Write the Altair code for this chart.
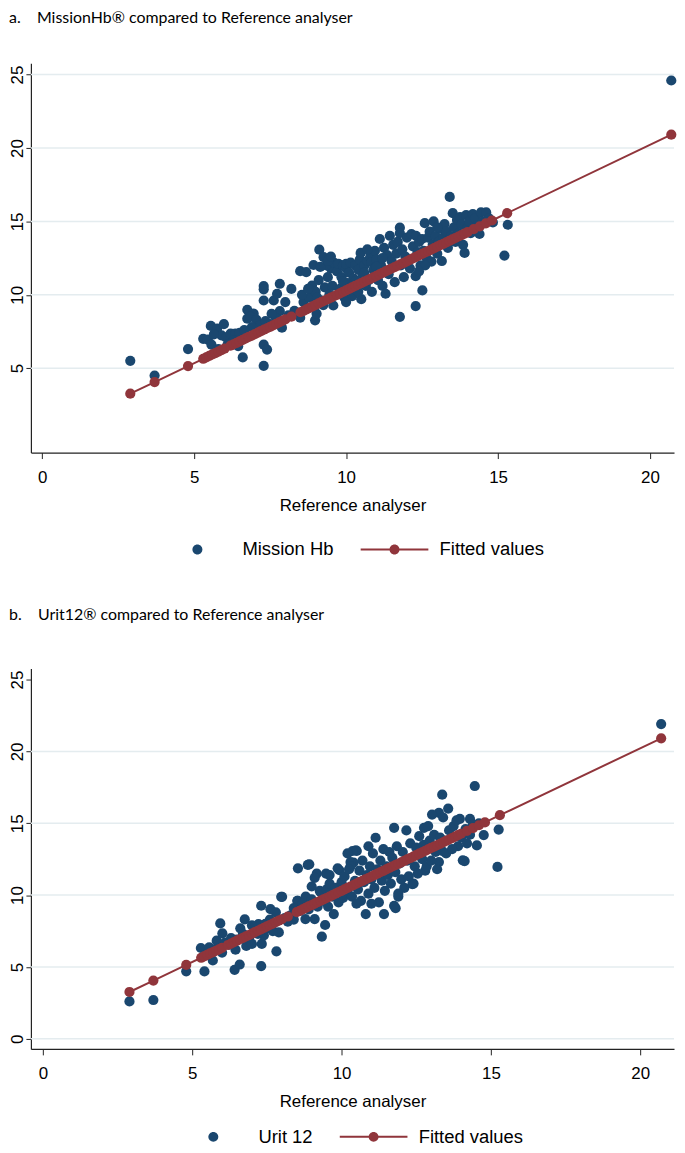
import altair as alt
import pandas as pd

BLUE = "#1a476f"
RED = "#90353b"
GRID = "#e4ecef"

# ---- Panel a: MissionHb vs reference analyser ----
mission_ref = [2.9, 3.7, 4.8,
    5.3, 5.45, 5.57, 5.55, 5.76, 5.98, 5.9, 6.05, 6.2, 6.36, 6.5, 6.6, 6.45, 5.8, 6.1, 6.3, 5.65,
    6.75, 6.75, 6.96, 6.85, 7.05, 7.29, 7.29, 7.4, 7.29, 7.29, 7.29, 7.62, 7.73, 7.82, 8.0, 7.82, 7.89, 8.2,
    7.0, 7.5, 7.7, 8.1, 8.3, 7.15, 7.55, 6.9, 7.35, 6.65,
    8.49, 8.69, 8.88, 8.93, 9.12, 9.26, 8.49, 8.98, 8.71, 9.03, 9.58, 8.6, 8.8, 9.0, 9.2, 9.3, 9.4, 9.5,
    9.35, 9.6, 9.1, 9.25, 9.45, 9.55, 8.55, 9.15, 9.4, 9.5, 8.75, 9.05,
    9.7, 9.75, 9.8, 9.85, 9.9, 9.95, 10.0, 10.0, 10.05, 10.1, 10.15, 10.2, 10.25, 10.3, 10.35, 10.4, 10.45,
    10.48, 10.5, 10.55, 10.6, 10.65, 10.7, 10.75, 10.8, 10.84, 10.85, 10.9, 10.95, 11.0, 11.05, 11.11, 11.15,
    11.2, 11.25, 11.3, 11.35, 11.4, 11.44, 11.5, 11.55, 11.6, 11.65, 11.7, 11.77, 11.77, 11.77, 11.8, 11.85,
    11.9, 11.95, 10.0, 10.3, 10.6, 9.9, 10.4, 11.0, 11.2, 10.7,
    12.0, 12.05, 12.1, 12.15, 12.2, 12.29, 12.29, 12.3, 12.35, 12.4, 12.45, 12.5, 12.51, 12.55, 12.59, 12.65,
    12.7, 12.75, 12.81, 12.85, 12.88, 12.95, 13.0, 13.05, 13.1, 13.15, 13.2, 13.24, 13.3, 13.35, 13.41, 13.45,
    13.51, 13.55, 13.6, 13.65, 13.7, 13.75, 13.8, 13.85, 13.9, 13.95, 14.0, 14.05, 14.1, 14.17, 14.25, 14.3,
    14.39, 14.44, 14.5, 14.61, 14.7, 14.83, 15.21, 15.32, 13.0, 12.6, 12.4,
    20.7]
mission_val = [5.5, 4.5, 6.3,
    7.0, 6.95, 6.6, 7.88, 7.7, 8.0, 7.24, 7.1, 7.35, 7.35, 7.4, 5.73, 6.5, 6.3, 6.6, 6.9, 7.3,
    8.37, 8.98, 8.71, 8.5, 8.3, 5.16, 6.6, 6.27, 9.61, 10.59, 10.37, 9.61, 10.07, 10.75, 9.5, 8.89, 7.76, 10.4,
    7.5, 8.0, 8.4, 8.6, 8.9, 7.9, 8.7, 7.8, 8.2, 7.6,
    11.61, 11.54, 10.63, 12.03, 13.07, 12.56, 8.44, 8.26, 9.05, 8.71, 9.27, 9.5, 9.8, 10.2, 9.6, 10.5, 11.2, 11.8,
    12.0, 12.2, 11.0, 9.3, 10.0, 10.6, 10.0, 11.9, 12.3, 12.6, 10.4, 9.8,
    11.6, 12.1, 10.4, 11.2, 12.0, 9.8, 11.8, 12.1, 10.8, 11.5, 12.2, 9.9, 11.1, 12.0, 10.3, 11.7, 12.4,
    12.85, 9.7, 11.3, 12.0, 10.6, 12.3, 11.0, 12.6, 12.22, 10.2, 11.7, 13.0, 12.4, 11.0, 13.8, 12.0,
    10.6, 13.2, 10.07, 12.7, 11.4, 14.02, 12.3, 13.4, 10.86, 12.8, 13.6, 14.57, 14.2, 8.5, 12.0, 13.1,
    11.2, 12.6, 9.5, 10.9, 11.5, 10.9, 10.2, 11.9, 12.5, 13.1,
    13.9, 12.4, 11.8, 14.14, 13.3, 11.27, 9.23, 14.02, 12.9, 13.6, 12.0, 13.8, 10.3, 13.0, 14.88, 12.5,
    13.9, 14.3, 12.26, 13.4, 15.0, 14.0, 12.8, 13.6, 14.5, 12.3, 13.9, 14.82, 14.3, 13.2, 16.67, 14.0,
    15.56, 14.6, 13.6, 15.1, 14.2, 15.3, 14.8, 13.4, 12.85, 15.43, 14.6, 15.0, 14.2, 15.5, 15.2, 14.7,
    14.14, 15.61, 15.0, 15.61, 15.2, 14.93, 12.67, 14.77, 14.6, 12.0, 11.6,
    24.6]

# ---- Panel b: Urit 12 vs reference analyser ----
urit_ref = [2.9, 3.7, 4.8, 5.41, 5.29, 5.57, 5.69, 5.82, 5.94, 6.01, 6.24, 6.42, 6.59, 6.61, 6.76, 6.81,
    7.11, 7.22, 7.31, 7.31, 7.33, 7.4, 7.62, 7.8, 7.82, 7.9, 8.01, 8.2, 8.54, 8.92, 8.52, 8.79, 9.1, 9.17,
    9.34, 9.45, 9.74, 9.93, 10.4, 10.51, 10.81, 11.42, 11.81, 11.9, 12.41, 14.12, 15.22,
    14.46, 13.37, 13.57, 13.26, 13.4, 13.96, 14.3, 15.26, 14.76, 14.53, 14.3, 14.06, 13.9, 11.76, 12.17,
    12.76, 12.9, 13.03, 11.14, 10.48, 10.9, 9.87, 10.3, 12.37, 11.76, 13.37, 13.5, 13.26, 12.8, 12.1, 11.9,
    8.87, 7.98, 9.1, 9.48, 10.3, 10.37, 8.53, 8.8, 9.27,
    5.6, 5.75, 6.0, 6.1, 6.3, 6.5, 6.7, 6.9, 7.0, 7.2, 7.5, 7.6, 7.7, 7.0, 6.45, 7.45, 8.1, 8.3, 8.4, 8.6,
    8.7, 8.9, 9.0, 9.2, 9.3, 9.4, 9.5, 9.55, 9.6, 9.7, 9.8, 9.9, 10.0, 10.05, 10.1, 10.2, 10.25, 10.35,
    10.45, 10.55, 10.6, 10.65, 10.7, 10.75, 10.85, 10.9, 10.95, 11.0, 11.05, 11.1, 11.2, 11.25, 11.3, 11.35,
    11.4, 11.45, 11.5, 11.55, 11.6, 11.65, 11.7, 11.8, 11.85, 11.95, 12.0, 12.05, 12.2, 12.25, 12.3, 12.45,
    12.5, 12.55, 12.6, 12.7, 12.75, 12.85, 12.95, 13.0, 13.1, 13.15, 13.2, 13.3, 13.45, 13.6, 13.7, 13.75,
    13.85, 14.0, 14.15, 14.2, 14.4, 14.6, 10.0, 10.5, 11.0, 10.2, 9.6, 9.0, 8.4,
    20.7]
urit_val = [2.6, 2.7, 4.7, 4.69, 6.32, 6.37, 5.45, 6.83, 8.03, 7.34, 6.56, 4.8, 5.17, 7.69, 8.31, 6.46,
    7.64, 7.98, 9.26, 5.06, 6.6, 7.2, 9.02, 8.8, 6.09, 7.4, 9.88, 8.15, 11.86, 12.14, 9.6, 8.33, 8.33, 11.5,
    7.11, 7.92, 8.68, 11.73, 12.26, 13.07, 8.68, 8.68, 9.09, 9.9, 10.8, 12.37, 11.96,
    17.59, 16.99, 16.02, 15.72, 15.4, 15.3, 15.3, 14.56, 14.18, 13.46, 14.2, 12.42, 13.4, 14.68, 14.5,
    14.68, 14.8, 15.6, 13.99, 13.11, 13.4, 11.86, 12.3, 10.76, 9.26, 13.07, 12.9, 12.3, 11.7, 10.5, 10.1,
    12.1, 9.88, 11.2, 11.5, 12.0, 13.07, 9.6, 9.9, 10.3,
    5.9, 6.2, 6.0, 6.7, 7.0, 6.9, 7.3, 7.0, 7.9, 7.3, 7.7, 8.3, 7.5, 6.6, 6.2, 8.0, 8.4, 8.6, 9.1, 8.9,
    9.4, 9.0, 9.7, 9.2, 10.2, 9.6, 10.4, 9.2, 10.8, 9.9, 10.5, 9.5, 10.9, 9.8, 11.3, 10.2, 11.8, 9.9,
    11.0, 10.4, 11.7, 9.6, 12.4, 10.9, 11.4, 10.1, 12.0, 11.1, 12.9, 10.5, 11.8, 9.5, 12.4, 11.0,
    13.2, 10.3, 12.0, 11.4, 13.0, 10.8, 12.6, 11.6, 13.4, 12.2, 11.1, 13.0, 12.4, 11.3, 13.6, 12.0,
    13.3, 11.5, 14.1, 12.5, 13.5, 12.0, 13.8, 12.4, 14.2, 13.0, 11.8, 14.0, 13.8, 14.5, 13.2, 14.8,
    15.2, 14.0, 14.6, 13.6, 14.9, 15.0, 10.0, 9.4, 9.4, 12.9, 11.4, 10.6, 8.3,
    21.9]

# ---- Fitted values (same regression line in both panels) ----
fitted_ref = [2.9, 3.7, 4.8, 5.3, 5.4, 5.5, 5.6, 5.7, 5.8, 5.9, 6.0, 6.2, 6.3, 6.4, 6.5, 6.6, 6.7, 6.8,
    6.9, 7.0, 7.1, 7.2, 7.3, 7.4, 7.5, 7.6, 7.7, 7.8, 7.9, 8.0, 8.2, 8.5, 8.6, 8.7, 8.8, 8.9, 9.0, 9.1,
    9.2, 9.3, 9.4, 9.5, 9.6, 9.7, 9.8, 9.9, 10.0, 10.1, 10.2, 10.3, 10.4, 10.5, 10.6, 10.7, 10.8, 10.9,
    11.0, 11.1, 11.2, 11.3, 11.4, 11.5, 11.6, 11.7, 11.8, 11.9, 12.0, 12.1, 12.2, 12.3, 12.4, 12.5, 12.6,
    12.7, 12.8, 12.9, 13.0, 13.1, 13.2, 13.3, 13.4, 13.5, 13.6, 13.7, 13.8, 13.9, 14.0, 14.2, 14.4, 14.6,
    14.8, 15.3, 20.7]
fitted_val = [3.26, 4.05, 5.14, 5.64, 5.74, 5.84, 5.94, 6.03, 6.13, 6.23, 6.33, 6.53, 6.63, 6.73, 6.83,
    6.93, 7.03, 7.13, 7.22, 7.32, 7.42, 7.52, 7.62, 7.72, 7.82, 7.92, 8.02, 8.12, 8.22, 8.32, 8.51, 8.81,
    8.91, 9.01, 9.11, 9.21, 9.31, 9.41, 9.51, 9.61, 9.70, 9.80, 9.90, 10.00, 10.10, 10.20, 10.30, 10.40,
    10.50, 10.60, 10.70, 10.80, 10.90, 10.99, 11.09, 11.19, 11.29, 11.39, 11.49, 11.59, 11.69, 11.79,
    11.89, 11.99, 12.09, 12.18, 12.28, 12.38, 12.48, 12.58, 12.68, 12.78, 12.88, 12.98, 13.08, 13.18,
    13.28, 13.38, 13.47, 13.57, 13.67, 13.77, 13.87, 13.97, 14.07, 14.17, 14.27, 14.47, 14.66, 14.86,
    15.06, 15.56, 20.91]

x_ticks = [0, 5, 10, 15, 20]

# legend keys: Stata-style wide key (dot alone / line through dot)
DOT_KEY = "M-4.571,0A0.714,0.714,0,1,1,-3.143,0A0.714,0.714,0,1,1,-4.571,0Z"
LINE_KEY = "M-8.714,-0.143L1,-0.143L1,0.143L-8.714,0.143Z" + DOT_KEY

AX_FONT = "Liberation Sans"
NB = "\u00a0"


def panel(title, series, xs, ys, y_ticks, grid_vals, x_dom, y_dom, w, h,
          title_offset, leg_x, leg_y):
    pts = pd.DataFrame({"ref": xs, "val": ys})
    fit = pd.DataFrame({"ref": fitted_ref, "val": fitted_val})
    grid = pd.DataFrame({"val": grid_vals})
    leg = pd.DataFrame({"series": pd.Series([], dtype=str)})

    xscale = alt.Scale(domain=x_dom, nice=False, zero=False)
    yscale = alt.Scale(domain=y_dom, nice=False, zero=False)
    xaxis = alt.Axis(title="Reference analyser", values=x_ticks, grid=False,
                     domainColor="#222222", domainWidth=1.2, tickColor="#222222",
                     tickSize=6, tickWidth=1, labelFont=AX_FONT, labelFontSize=17,
                     labelColor="black", labelPadding=11, titleFont=AX_FONT,
                     titleFontSize=17, titleFontWeight="normal", titleColor="black",
                     titlePadding=12, labelFlush=False)
    yaxis = alt.Axis(title=None, values=y_ticks, grid=False, labelAngle=270,
                     labelAlign="center", labelBaseline="alphabetic",
                     domainColor="#222222", domainWidth=1.2, tickColor="#222222",
                     tickSize=5, tickWidth=1, labelFont=AX_FONT, labelFontSize=17,
                     labelColor="black", labelPadding=3, labelFlush=False)
    X = alt.X("ref:Q", scale=xscale, axis=xaxis)
    Y = alt.Y("val:Q", scale=yscale, axis=yaxis)

    grid_layer = alt.Chart(grid).mark_rule(color=GRID, strokeWidth=1.5).encode(y=Y)
    scatter = alt.Chart(pts).mark_point(filled=True, size=105, shape="circle", opacity=1,
                                        color=BLUE, strokeWidth=0).encode(x=X, y=Y)
    line = alt.Chart(fit).mark_line(color=RED, strokeWidth=2).encode(
        x=X, y=Y, order=alt.Order("ref:Q"))
    fpts = alt.Chart(fit).mark_point(filled=True, size=105, shape="circle", opacity=1,
                                     color=RED, strokeWidth=0).encode(x=X, y=Y)
    domain = [series, "Fitted values"]
    legend = alt.Legend(orient="none", legendX=leg_x, legendY=leg_y, direction="horizontal",
                        title=None, labelFont=AX_FONT, labelFontSize=18.5, labelColor="black",
                        labelOffset=9, columnPadding=27, symbolSize=196,
                        symbolStrokeWidth=0, symbolOpacity=1, padding=0)
    key = alt.Chart(leg).mark_point(filled=True, size=196, opacity=1, strokeWidth=0).encode(
        color=alt.Color("series:N", scale=alt.Scale(domain=domain, range=[BLUE, RED]),
                        legend=legend),
        shape=alt.Shape("series:N", scale=alt.Scale(domain=domain, range=[DOT_KEY, LINE_KEY]),
                        legend=legend),
    )
    return alt.layer(grid_layer, scatter, line, fpts, key).properties(
        width=w, height=h,
        title=alt.TitleParams(text=title, anchor="start", frame="bounds", font="Lato",
                              fontSize=16, fontWeight="normal", color="black",
                              offset=title_offset),
    )


pa = panel("a." + NB * 4 + "MissionHb\u00ae compared to Reference analyser", "Mission Hb",
           mission_ref, mission_val, [5, 10, 15, 20, 25], [5, 10, 15, 20, 25],
           [-0.37, 20.79], [-0.75, 25.77], 646, 391, 37, 185, 479)
pb = panel("b." + NB * 4 + "Urit12\u00ae compared to Reference analyser", "Urit 12",
           urit_ref, urit_val, [0, 5, 10, 15, 20, 25], [0, 5, 10, 15, 20],
           [-0.4, 21.13], [-0.7, 25.76], 646, 382, 46, 201, 461)

chart = alt.vconcat(pa, pb, spacing=48).resolve_scale(color="independent", shape="independent").configure(
    padding=0, background="white"
).configure_view(stroke=None)

chart.save("out.html", embed_options={"renderer": "svg", "actions": False})
